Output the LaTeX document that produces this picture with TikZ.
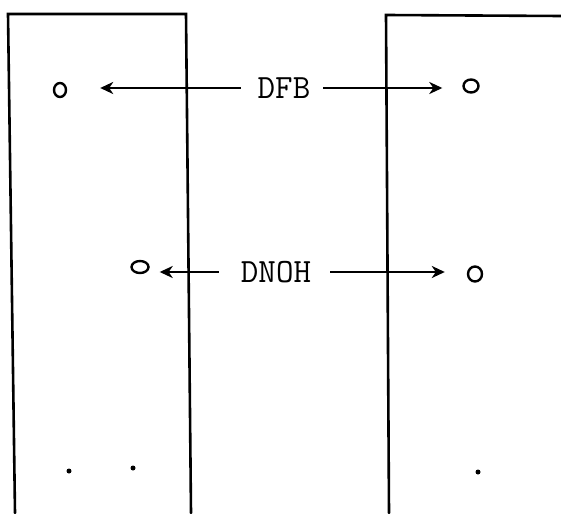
\documentclass[tikz,border=0pt]{standalone}
\usetikzlibrary{arrows.meta,shapes.geometric}
\begin{document}
\begin{tikzpicture}[x=1pt,y=-1pt,
  wall/.style={line width=2.6pt,line cap=round},
  ring/.style={draw,ellipse,line width=2.4pt,inner sep=0pt},
  lbl/.style={font=\ttfamily\fontsize{34}{34}\selectfont,inner sep=0pt},
  arr/.style={line width=2.8pt,-{Stealth[length=13pt,width=12pt,inset=4pt]}},
  spot/.style={fill,circle,inner sep=0pt,minimum size=5pt}]
\useasboundingbox (0,0) rectangle (561,513);
% columns
\coordinate (l1) at (8,14); \coordinate (l2) at (186,14);
\coordinate (l3) at (15,513); \coordinate (l4) at (191,513);
\coordinate (r1) at (386,15); \coordinate (r2) at (561,16);
\coordinate (r3) at (389,513);
\draw[wall] (l3) -- (l1) -- (l2) -- (l4);
\draw[wall] (r3) -- (r1) -- (r2);
% rings
\node[ring,minimum width=12pt,minimum height=14pt] (o1) at (60,90) {};
\node[ring,minimum width=15pt,minimum height=13pt] (o2) at (471,86) {};
\node[ring,minimum width=17pt,minimum height=12pt] (o3) at (140,267) {};
\node[ring,minimum width=14pt,minimum height=15pt] (o4) at (475,274) {};
% labels
\node[lbl] (dfb) at (284,88) {DFB};
\node[lbl] (dnoh) at (276,272) {DNOH};
% arrows
\draw[arr,shorten <=17pt,shorten >=33pt] (dfb.west) -- (dfb.west -| o1.east);
\draw[arr,shorten <=13pt,shorten >=20pt] (dfb.east) -- (dfb.east -| o2.west);
\draw[arr,shorten <=22pt,shorten >=10pt] (dnoh.west) -- (dnoh.west -| o3.east);
\draw[arr,shorten <=19pt,shorten >=22pt] (dnoh.east) -- (dnoh.east -| o4.west);
% dots
\node[spot] (d1) at (69,471) {};
\node[spot] (d2) at (133,468) {};
\node[spot] (d3) at (478,472) {};
\end{tikzpicture}
\end{document}
